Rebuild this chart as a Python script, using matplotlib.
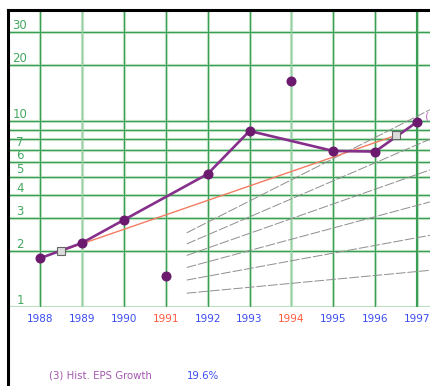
import numpy as np
import matplotlib
matplotlib.use("Agg")
import matplotlib.pyplot as plt
from matplotlib.lines import Line2D

# --- data ---
years = [1988, 1989, 1990, 1991, 1992, 1993, 1994, 1995, 1996, 1997]
eps = [1.83, 2.21, 2.94, 1.47, 5.19, 8.84, 16.4, 6.9, 6.85, 9.88]
excluded_years = [1991, 1994]

growth_label = "(3) Hist. EPS Growth"
growth_rate = 19.6          # percent per year
trend_start = (1988.5, 2.0)
trend_end_year = 1996.5

guide_rates = [30, 25, 20, 15, 10, 5]   # percent per year guide fan
guide_base = (1988, 1.0)
guide_from = 1991.5

grid_values = [1, 2, 3, 4, 5, 6, 7, 8, 9, 10, 20, 30]
grid_labels = ["1", "2", "3", "4", "5", "6", "7", "", "", "10", "20", "30"]

# --- colours ---
PURPLE = "#86308b"
PURPLE_DOT = "#6c1a6e"
GREEN = "#3a9f55"
GREEN_LIGHT = "#c2e3c8"
BLUE = "#3a4cf0"
RED = "#ff5a3c"
SALMON = "#f47c62"

W, H = 430, 386
fig = plt.figure(figsize=(W / 100, H / 100), dpi=100)
fig.patch.set_facecolor("white")

ax = fig.add_axes([10 / W, 1 - 307 / H, 1 - 10 / W, (307 - 10) / H])
ax.set_yscale("log")
ax.set_xlim(1987.28, 1997.31)
ax.set_ylim(1, 10 ** ((307 - 10) / 186))
for s in ax.spines.values():
    s.set_visible(False)

# grid: light band with a darker core
for v in grid_values:
    ax.axhline(v, color=GREEN_LIGHT, lw=2.3, zorder=1)
    ax.axhline(v, color=GREEN, lw=0.8, zorder=1.1)
for yr in years:
    ax.axvline(yr, color=GREEN_LIGHT, lw=2.3, zorder=1)
    core = "#95d0a0" if yr in (1989, 1994) else GREEN
    ax.axvline(yr, color=core, lw=1.5 if yr == 1997 else 0.8, zorder=1.1)

# y labels sit inside the plot, just above their lines
for v, lab in zip(grid_values, grid_labels):
    if lab:
        ax.annotate(lab, (0, v), xycoords=("axes fraction", "data"),
                    xytext=(10, 7), textcoords="offset pixels",
                    ha="center", va="center", fontsize=8.5, color="#45a860", zorder=5)

# growth guide fan
t = np.linspace(guide_from, 1997.31, 50)
for r in guide_rates:
    ax.plot(t, guide_base[1] * (1 + r / 100) ** (t - guide_base[0]),
            color="#8e8e8e", lw=0.7, ls=(0, (10, 2)), zorder=2)

# historical growth trend
trend_end = trend_start[1] * (1 + growth_rate / 100) ** (trend_end_year - trend_start[0])
ax.plot([trend_start[0], trend_end_year], [trend_start[1], trend_end],
        color=SALMON, lw=1.0, zorder=3)

# EPS line (excluded years are dots only)
kept_x = [y for y in years if y not in excluded_years]
kept_y = [e for y, e in zip(years, eps) if y not in excluded_years]
ax.plot(kept_x, kept_y, color=PURPLE, lw=1.9, zorder=4)
ax.plot(years, eps, "o", color=PURPLE_DOT, ms=6.2, zorder=6)

ax.plot([trend_start[0], trend_end_year], [trend_start[1], trend_end], "s",
        ms=5.5, mfc="#dcdcdc", mec="#666666", mew=0.8, zorder=7)

ax.text(1997.18, 10.6, "(3)", color="#c070c8", fontsize=8, ha="left", va="center",
        clip_on=False, zorder=7)

# x labels
ax.set_xticks(years)
ax.set_xticklabels([str(y) for y in years], fontsize=7.5)
ax.tick_params(axis="x", length=0, pad=5)
ax.tick_params(axis="y", which="both", length=0, labelleft=False)
ax.yaxis.set_minor_formatter(plt.NullFormatter())
for lab, yr in zip(ax.get_xticklabels(), years):
    lab.set_color(RED if yr in excluded_years else BLUE)

# outer black frame (top and left)
fig.add_artist(Line2D([8 / W, 1], [1 - 10 / H, 1 - 10 / H], color="black", lw=2.2))
fig.add_artist(Line2D([8 / W, 8 / W], [0, 1 - 10 / H], color="black", lw=2.2))

# footnote
fig.text(49 / W, 1 - 376 / H, growth_label, color="#a556b0", fontsize=7.3, va="center")
fig.text(187 / W, 1 - 376 / H, f"{growth_rate:.1f}%", color=BLUE, fontsize=7.3, va="center")

fig.savefig("out.png", dpi=100)
